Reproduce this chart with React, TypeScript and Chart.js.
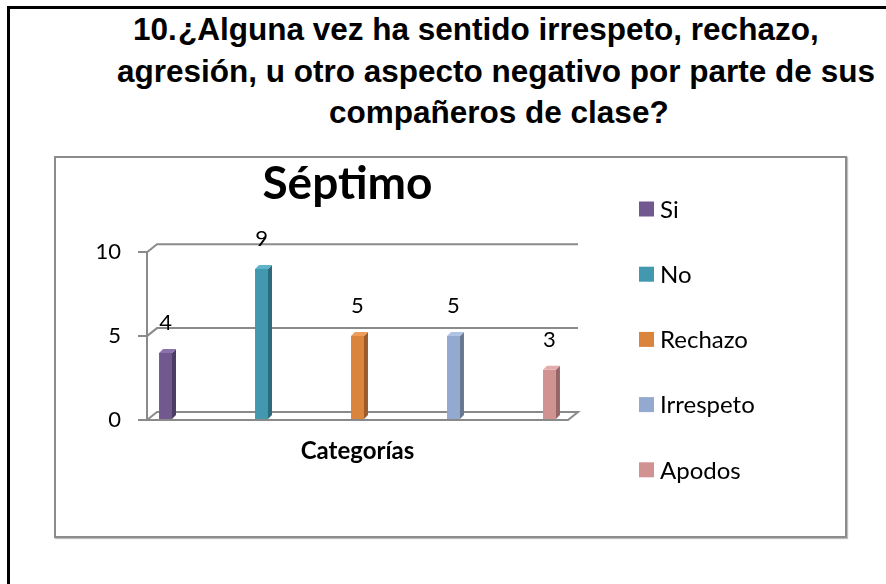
import React, { useEffect, useRef } from "react";
import { Chart, registerables } from "chart.js";

Chart.register(...registerables);

// ---- data ----
const categories = ["Categorías"];
const seriesNames = ["Si", "No", "Rechazo", "Irrespeto", "Apodos"];
const seriesValues = [4, 9, 5, 5, 3];
const yTickValues = [0, 5, 10];
const chartTitle = "Séptimo";
const headingNumber = "10.";
const headingLines = [
  "¿Alguna vez ha sentido irrespeto, rechazo,",
  "agresión, u otro aspecto negativo por parte de sus",
  "compañeros de clase?",
];

// ---- styles ----
const frontColors = ["#71588F", "#4198AF", "#DB843D", "#93A9CF", "#D19392"];
const sideColors = ["#4E3D63", "#2C6B7B", "#9C5C29", "#66778F", "#946665"];
const topColors = ["#8C72AD", "#5DB4CB", "#EE9C57", "#AFC3E3", "#E3ABAA"];
const GRID = "#8a8a8a";
const WALL_DX = 10;
const WALL_DY = 8;
const BAR_DX = 4;
const BAR_DY = 4;
const FONT = "Lato, 'Open Sans', sans-serif";

const depthPlugin = {
  id: "depth3d",
  beforeDatasetsDraw(chart: any) {
    const { ctx, chartArea: a, scales } = chart;
    const y = scales.y;
    ctx.save();
    ctx.strokeStyle = GRID;
    ctx.lineWidth = 2;
    const yb = y.getPixelForValue(0);
    ctx.beginPath();
    ctx.moveTo(a.left, yb);
    ctx.lineTo(a.left + WALL_DX, yb - WALL_DY);
    ctx.lineTo(a.right + WALL_DX, yb - WALL_DY);
    ctx.lineTo(a.right, yb);
    ctx.closePath();
    ctx.stroke();
    for (const v of yTickValues) {
      if (v === 0) continue;
      const py = y.getPixelForValue(v);
      ctx.beginPath();
      ctx.moveTo(a.left, py);
      ctx.lineTo(a.left + WALL_DX, py - WALL_DY);
      ctx.lineTo(a.right + WALL_DX, py - WALL_DY);
      ctx.stroke();
    }
    ctx.restore();
  },
  afterDatasetsDraw(chart: any) {
    const { ctx } = chart;
    ctx.save();
    chart.data.datasets.forEach((ds: any, i: number) => {
      const meta = chart.getDatasetMeta(i);
      meta.data.forEach((el: any, j: number) => {
        const { x, y, base, width } = el.getProps(["x", "y", "base", "width"], true);
        const l = x - width / 2;
        const r = x + width / 2;
        ctx.fillStyle = sideColors[i];
        ctx.beginPath();
        ctx.moveTo(r, y);
        ctx.lineTo(r + BAR_DX, y - BAR_DY);
        ctx.lineTo(r + BAR_DX, base - BAR_DY);
        ctx.lineTo(r, base);
        ctx.closePath();
        ctx.fill();
        ctx.fillStyle = topColors[i];
        ctx.beginPath();
        ctx.moveTo(l, y);
        ctx.lineTo(l + BAR_DX, y - BAR_DY);
        ctx.lineTo(r + BAR_DX, y - BAR_DY);
        ctx.lineTo(r, y);
        ctx.closePath();
        ctx.fill();
        ctx.fillStyle = "#000";
        ctx.font = `22px ${FONT}`;
        ctx.textAlign = "center";
        ctx.textBaseline = "middle";
        ctx.fillText(String(ds.data[j]), x, y - 30);
      });
    });
    ctx.restore();
  },
  afterDraw(chart: any) {
    const { ctx } = chart;
    ctx.save();
    ctx.font = `24px ${FONT}`;
    ctx.textAlign = "left";
    ctx.textBaseline = "middle";
    chart.data.datasets.forEach((ds: any, i: number) => {
      const cy = 209 + i * 65.2;
      ctx.fillStyle = frontColors[i];
      ctx.fillRect(639, cy - 7.5, 15, 15);
      ctx.fillStyle = "#000";
      ctx.fillText(ds.label, 660, cy + 1);
    });
    ctx.restore();
  },
};

function ChartCanvas() {
  const ref = useRef<HTMLCanvasElement | null>(null);
  useEffect(() => {
    if (!ref.current) return;
    const chart = new Chart(ref.current, {
      type: "bar",
      data: {
        labels: categories,
        datasets: seriesNames.map((name, i) => ({
          label: name,
          data: [seriesValues[i]],
          backgroundColor: frontColors[i],
          borderWidth: 0,
          yAxisID: "y",
        })),
      },
      options: {
        responsive: false,
        animation: false,
        events: [],
        layout: { padding: { left: 90, right: 281, top: 130, bottom: 104 } },
        datasets: { bar: { categoryPercentage: 1.14, barPercentage: 0.135 } } as any,
        plugins: {
          legend: { display: false },
          tooltip: { enabled: false },
          title: {
            display: true,
            text: chartTitle,
            color: "#000",
            font: { family: FONT, size: 46, weight: "bold" },
            padding: { top: 27, bottom: 40 },
          },
        },
        scales: {
          x: {
            grid: { display: false, drawTicks: false },
            border: { display: false },
            ticks: { color: "#000", font: { family: FONT, size: 24, weight: "bold" }, padding: 17 },
            afterFit(s: any) {
              s.height = 60;
            },
          },
          y: {
            min: 0,
            max: 10,
            afterBuildTicks(s: any) {
              s.ticks = yTickValues.map((v) => ({ value: v }));
            },
            ticks: { color: "#000", font: { family: FONT, size: 22 }, padding: 17 },
            grid: { drawOnChartArea: false, drawTicks: true, tickLength: 9, color: GRID, lineWidth: 2 },
            border: { display: true, color: GRID, width: 2 },
            afterFit(s: any) {
              s.width = 57;
            },
          },
          // empty right-hand band (depth of the 3D wall), keeps the plot area aligned
          depthBand: {
            type: "linear",
            position: "right",
            display: true,
            grid: { display: false, drawTicks: false },
            border: { display: false },
            ticks: { display: false },
            afterFit(s: any) {
              s.width = 37;
            },
          },
        },
      },
      plugins: [depthPlugin],
    });
    return () => chart.destroy();
  }, []);
  return (
    <canvas
      ref={ref}
      width={886}
      height={584}
      style={{ position: "absolute", left: 0, top: 0, width: 886, height: 584 }}
    />
  );
}

export default function App() {
  const headStyle: React.CSSProperties = {
    position: "absolute",
    fontFamily: "'Liberation Sans', Arial, sans-serif",
    fontWeight: "bold",
    fontSize: 31.5,
    lineHeight: "36px",
    whiteSpace: "pre",
    color: "#000",
  };
  return (
    <div
      style={{
        position: "fixed",
        left: 0,
        top: 0,
        width: 886,
        height: 584,
        overflow: "hidden",
        background: "#fff",
      }}
    >
      <div
        style={{
          position: "absolute",
          left: 7,
          top: 6,
          width: 1000,
          height: 700,
          border: "3px solid #000",
        }}
      />
      <div style={{ ...headStyle, left: 133, top: 11 }}>{headingNumber}</div>
      <div style={{ ...headStyle, left: 178, top: 11 }}>{headingLines[0]}</div>
      <div style={{ ...headStyle, left: 117, top: 53 }}>{headingLines[1]}</div>
      <div style={{ ...headStyle, left: 329, top: 94 }}>{headingLines[2]}</div>
      <div
        style={{
          position: "absolute",
          left: 54,
          top: 156,
          width: 793,
          height: 382,
          boxSizing: "border-box",
          border: "2px solid #8c8c8c",
          boxShadow: "1px 1px 1px rgba(0,0,0,0.25)",
        }}
      />
      <ChartCanvas />
    </div>
  );
}
